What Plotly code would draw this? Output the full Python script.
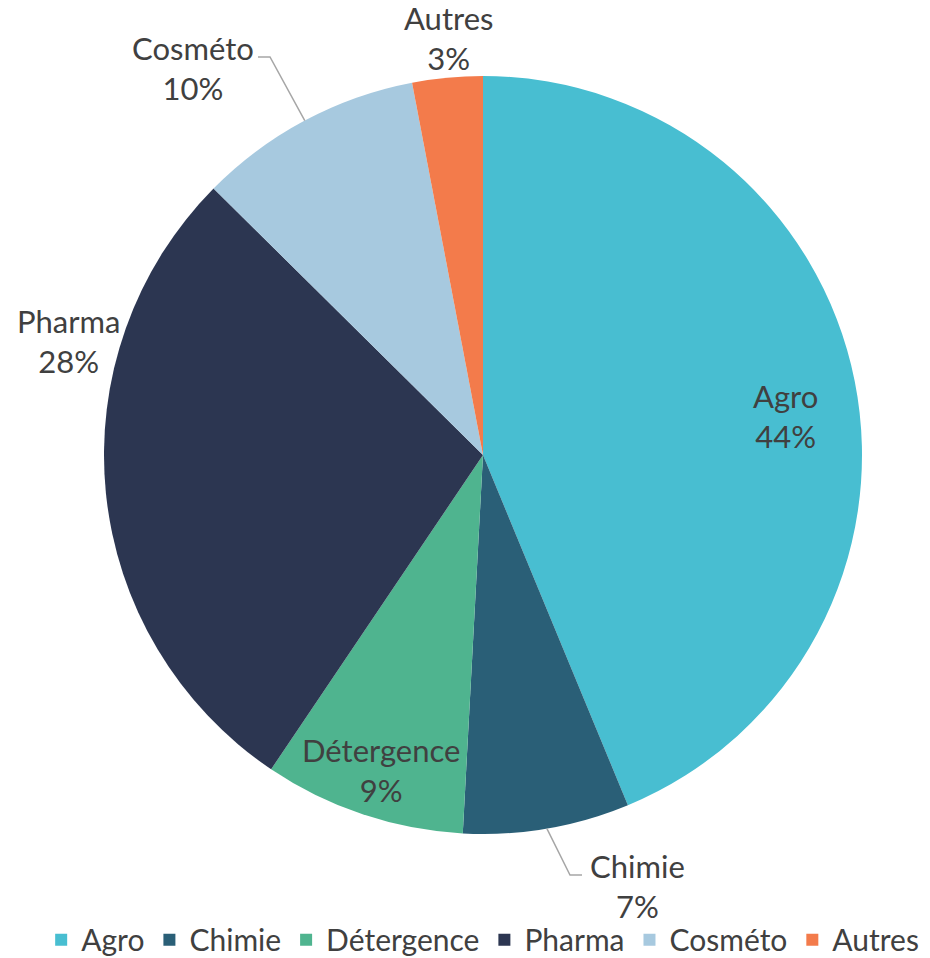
import math
import plotly.graph_objects as go

# ---- data ----
categories = ["Agro", "Chimie", "Détergence", "Pharma", "Cosméto", "Autres"]
values = [43.8, 7.1, 8.6, 28.0, 9.6, 3.0]
colors = ["#48bed1", "#2a5f77", "#4fb48f", "#2c3651", "#a7c9df", "#f37b4b"]

# ---- label layout (pixel centers of each two-line label) ----
W, H = 930, 958
CX, CY, R = 483, 455, 379
label_pos = {
    "Agro": (785, 416),
    "Chimie": (637, 886),
    "Détergence": (381, 770),
    "Pharma": (68, 341),
    "Cosméto": (193, 68),
    "Autres": (448, 38),
}
# leader lines: label-side anchor pixel (elbow start)
leaders = {
    "Cosméto": [(258, 57), (270, 57)],
    "Chimie": [(582, 875), (570, 875)],
}

total = sum(values)
percents = [v / total for v in values]

fig = go.Figure(go.Pie(
    labels=categories,
    values=values,
    sort=False,
    direction="clockwise",
    rotation=0,
    marker=dict(colors=colors, line=dict(width=0)),
    textinfo="none",
    hoverinfo="label+percent",
    domain=dict(x=[(CX - R) / W, (CX + R) / W], y=[1 - (CY + R) / H, 1 - (CY - R) / H]),
))

def px(x, y):
    return x / W, 1 - y / H

annotations = []
for cat, p in zip(categories, percents):
    x, y = label_pos[cat]
    ax, ay = px(x, y)
    annotations.append(dict(
        x=ax, y=ay, xref="paper", yref="paper",
        text=f"{cat}<br>{round(p * 100)}%",
        showarrow=False, xanchor="center", yanchor="middle",
        font=dict(family="Lato", size=31, color="#404040"),
    ))

shapes = []
cum = 0.0
for cat, p in zip(categories, percents):
    mid = (cum + p / 2) * 2 * math.pi
    cum += p
    if cat in leaders:
        ex = CX + R * math.sin(mid)
        ey = CY - R * math.cos(mid)
        pts = leaders[cat] + [(ex, ey)]
        path = "M " + " L ".join(f"{px(a, b)[0]},{px(a, b)[1]}" for a, b in pts)
        shapes.append(dict(type="path", xref="paper", yref="paper", path=path,
                           line=dict(color="#a6a6a6", width=1.5)))

fig.update_layout(
    width=W, height=H,
    margin=dict(l=0, r=0, t=0, b=0, autoexpand=False),
    paper_bgcolor="white",
    plot_bgcolor="white",
    showlegend=True,
    legend=dict(
        orientation="h", x=0.519, xanchor="center", y=-0.008, yanchor="bottom",
        font=dict(family="Lato", size=30, color="#404040"),
        itemwidth=30, tracegroupgap=0,
    ),
    annotations=annotations,
    shapes=shapes,
)

fig.write_html(
    "out.html",
    config={"displayModeBar": False},
    post_script="document.body.style.margin='0';document.body.style.overflow='hidden';",
)
